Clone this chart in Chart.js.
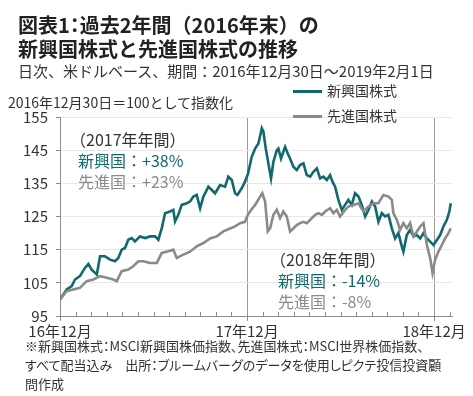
<!DOCTYPE html>
<html>
<head>
<meta charset="utf-8">
<script src="https://cdn.jsdelivr.net/npm/chart.js@4"></script>
<style>
  body { margin: 0; background: #fff; font-family: "Noto Sans CJK JP", "Noto Sans", sans-serif; color: #333; }
  #wrap { position: relative; width: 473px; height: 396px; overflow: hidden; }
  #wrap canvas { position: absolute; left: 0; top: 0; }
  .txt { position: absolute; white-space: nowrap; pointer-events: none; }
  .title { left: 18px; top: 13px; font-size: 20px; line-height: 24px; font-weight: bold; color: #222; }
  .title .p { font-feature-settings: "palt"; }
  .sub { left: 18px; top: 61px; font-size: 15px; line-height: 20px; }
  .ynote { left: 8px; top: 93px; font-size: 14px; line-height: 18px; }
  .leg { font-size: 14px; line-height: 18px; left: 293px; }
  .leg i { display: inline-block; width: 29px; height: 3px; vertical-align: middle; margin-right: 5px; position: relative; top: -1px; }
  .note { font-size: 16px; line-height: 21px; }
  .note .h { margin-left: -8px; }
  .em { color: #11696d; }
  .dv { color: #8a8a8a; }
  .foot { left: 25px; top: 336px; font-size: 13px; line-height: 19px; font-feature-settings: "palt"; }
</style>
</head>
<body>
<div id="wrap">
  <canvas id="line-chart" width="473" height="396"></canvas>
  <div class="txt title">図表1<span class="p">：</span>過去2年間（2016年末）の<br>新興国株式と先進国株式の推移</div>
  <div class="txt sub">日次、米ドルベース、期間：2016年12月30日～2019年2月1日</div>
  <div class="txt ynote">2016年12月30日＝100として指数化</div>
  <div class="txt leg" style="top:81px"><i style="background:#11696d"></i>新興国株式</div>
  <div class="txt leg" style="top:106px"><i style="background:#8a8a8a"></i>先進国株式</div>
  <div class="txt note" style="left:78px; top:129px"><span class="h">（2017年年間）</span><br><span class="em">新興国：+38%</span><br><span class="dv">先進国：+23%</span></div>
  <div class="txt note" style="left:278px; top:249px"><span class="h">（2018年年間）</span><br><span class="em">新興国：-14%</span><br><span class="dv">先進国：-8%</span></div>
  <div class="txt foot">※新興国株式：MSCI新興国株価指数、先進国株式：MSCI世界株価指数、<br>すべて配当込み　出所：ブルームバーグのデータを使用しピクテ投信投資顧<br>問作成</div>
</div>
<script>
// x = 2016年12月30日からの月数
let em_months = [0,0.43,0.75,0.96,1.28,1.60,1.82,2.03,2.25,2.36,
  2.57,2.89,3.21,3.53,3.74,3.96,4.17,4.38,4.60,4.81,
  5.13,5.46,5.78,6.10,6.31,6.53,6.74,7.06,7.27,7.38,
  7.59,7.81,8.13,8.34,8.56,8.77,8.99,9.20,9.52,9.74,
  9.95,10.27,10.59,10.80,11.02,11.23,11.38,11.66,11.87,12.07,
  12.30,12.52,12.73,12.95,13.05,13.20,13.37,13.54,13.69,13.91,
  14.01,14.18,14.44,14.61,14.76,14.97,15.19,15.40,15.62,15.83,
  16.05,16.26,16.48,16.69,16.90,17.12,17.33,17.48,17.65,17.86,
  18.08,18.29,18.50,18.72,18.93,19.15,19.36,19.58,19.79,20.01,
  20.22,20.43,20.65,20.86,21.07,21.29,21.50,21.71,21.93,22.03,
  22.25,22.46,22.68,22.89,23.11,23.32,23.54,23.75,23.96,24.18,
  24.39,24.60,24.82,24.98,25.07];
// 新興国株式
let em_values = [100,103,104,106,107,109.5,110.7,109,108,107.5,
  113,113,112,111.5,112.5,115,115.5,118,118.5,117.5,
  119,118.5,119,119,118,121.5,126,126.5,127,123.5,
  125.5,128.5,129,129.5,131,131.5,127.5,131,134,133,
  132,134.5,134,137,136,132,131.5,133.5,135.5,138,
  143,145.5,147,151.6,150.6,145.5,141,136.5,141.5,145,
  145.5,142.5,146,144,142.5,140,139,140.5,141,137.5,
  137,138.5,139.5,136.5,137,136,137.5,135.5,134,130,
  127,128.5,130,128.5,132,131,128.5,125,127,129.5,
  128,123.4,126,125,125.5,121.4,118.4,120,116,114.4,
  119.4,121,119,119.4,118.4,120,118.4,117.4,116.4,117.9,
  119.4,122,124,126.5,129];

let dv_months = [0,0.43,0.85,1.28,1.71,2.14,2.57,3.00,3.42,3.64,
  3.96,4.38,4.70,5.03,5.35,5.78,6.21,6.53,6.95,7.27,
  7.49,7.91,8.34,8.77,9.20,9.63,10.06,10.48,10.91,11.23,
  11.55,11.87,12.05,12.19,12.52,12.84,12.98,13.16,13.33,13.48,
  13.69,13.91,14.12,14.33,14.55,14.76,14.97,15.19,15.40,15.62,
  15.83,16.05,16.37,16.58,16.80,17.01,17.33,17.54,17.76,17.97,
  18.29,18.50,18.83,19.15,19.47,19.79,20.11,20.43,20.75,21.07,
  21.29,21.39,21.61,21.82,22.03,22.25,22.46,22.68,22.89,23.11,
  23.32,23.54,23.75,23.90,24.07,24.28,24.50,24.71,24.92,25.07];
// 先進国株式
let dv_values = [100,102.5,103,103.5,105.5,106,107,106.5,106,105.5,
  108.5,109,110,111.5,111.5,111,111,114,114.5,115,
  112.5,113.5,114.4,116,117,118.4,119,120.5,121.4,122,
  123,123.4,125.5,126.5,128.5,131,132,129.5,120.5,121.4,
  125.5,127,124.5,126.5,125,120.5,121.4,122.4,123,123.4,
  123,124,125.5,126,125.5,126.5,127.5,126,127,125,
  127,128,128.5,129,126.5,128,129,129,131.5,131,
  130,126,124,121,123,121.4,123,119,120.4,122,
  123,116.4,112.4,108,112,114.4,116.4,118.4,120,121.4];

// x軸ラベル (12か月ごと)
let tick_labels = {0: '16年12月', 12: '17年12月', 24: '18年12月'};

function to_points(xs, ys) {
  let pts = [];
  for (let i = 0; i < xs.length; i++) {
    pts.push({x: xs[i], y: ys[i]});
  }
  return pts;
}

// 月ごとの小さい目盛り (内向き)
let minor_ticks = {
  id: 'minor_ticks',
  afterDraw: function(chart) {
    let ctx = chart.ctx;
    let xs = chart.scales.x;
    let bottom = chart.chartArea.bottom;
    ctx.save();
    ctx.strokeStyle = '#8c8c8c';
    ctx.lineWidth = 1;
    for (let m = 1; m <= 25; m++) {
      if (m % 12 == 0) continue;
      let px = Math.round(xs.getPixelForValue(m)) + 0.5;
      ctx.beginPath();
      ctx.moveTo(px, bottom);
      ctx.lineTo(px, bottom - 4);
      ctx.stroke();
    }
    ctx.restore();
  }
};

let myChart = new Chart(document.getElementById('line-chart').getContext('2d'), {
  type: 'line',
  data: {
    datasets: [
      {
        label: '新興国株式',
        data: to_points(em_months, em_values),
        borderColor: '#11696d',
        borderWidth: 2.6,
        pointRadius: 0,
        tension: 0,
        order: 1
      },
      {
        label: '先進国株式',
        data: to_points(dv_months, dv_values),
        borderColor: '#8a8a8a',
        borderWidth: 2.6,
        pointRadius: 0,
        tension: 0,
        order: 0
      }
    ]
  },
  options: {
    responsive: false,
    animation: false,
    events: [],
    layout: { padding: { left: 0, top: 117, right: 21, bottom: 52 } },
    plugins: {
      legend: { display: false },
      tooltip: { enabled: false }
    },
    scales: {
      x: {
        type: 'linear',
        min: 0,
        max: 25.15,
        afterFit: function(scale) { scale.height = 28; },
        border: { color: '#8c8c8c' },
        grid: {
          color: function(c) { return (c.tick && c.tick.value % 12 == 0) ? '#999999' : 'rgba(0,0,0,0)'; },
          tickColor: function(c) { return (c.tick && c.tick.value % 12 == 0) ? '#8c8c8c' : 'rgba(0,0,0,0)'; },
          tickLength: 5
        },
        ticks: {
          stepSize: 1,
          autoSkip: false,
          maxRotation: 0,
          padding: 1,
          color: '#333',
          font: { family: '"Noto Sans CJK JP"', size: 15 },
          callback: function(v) { return tick_labels[v] || ''; }
        }
      },
      y: {
        min: 95,
        max: 155,
        afterFit: function(scale) { scale.width = 60; },
        border: { color: '#8c8c8c' },
        grid: { color: '#e8e8e8', tickColor: '#8c8c8c', tickLength: 4 },
        ticks: {
          stepSize: 10,
          padding: 8,
          color: '#333',
          font: { family: '"Noto Sans CJK JP"', size: 15 }
        }
      }
    }
  },
  plugins: [minor_ticks]
});
</script>
</body>
</html>
